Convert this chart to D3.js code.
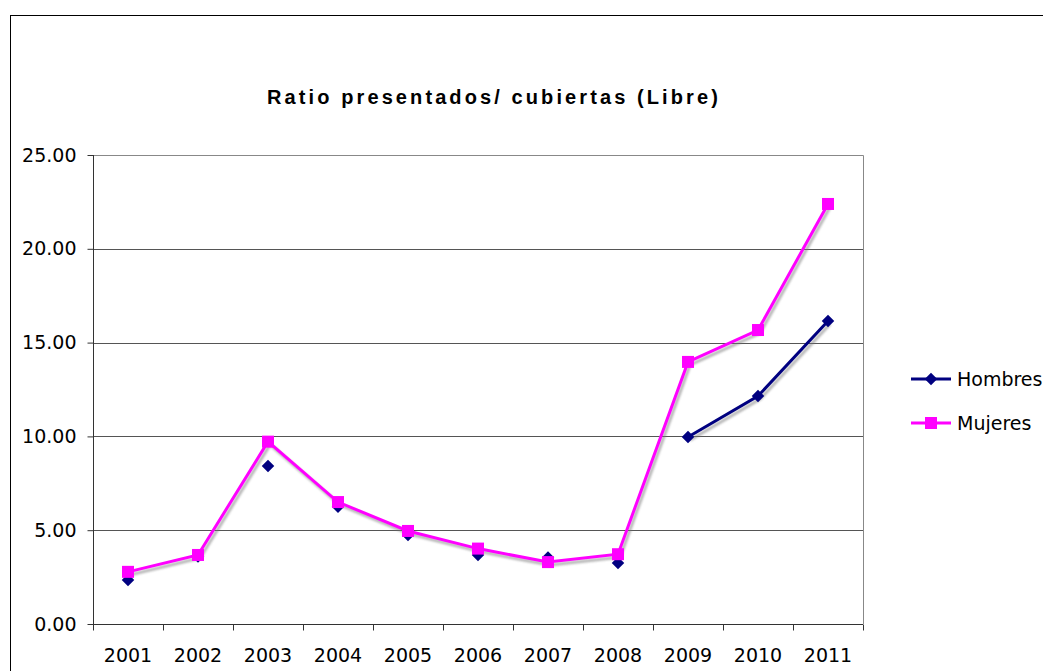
<!DOCTYPE html>
<html>
<head>
<meta charset="utf-8">
<script src="https://cdn.jsdelivr.net/npm/d3@7"></script>
<style>
  body { margin: 0; background: #fff; }
  svg text { font-family: "DejaVu Sans", Verdana, sans-serif; fill: #000; }
</style>
</head>
<body>
<div id="chart"></div>
<script>
const years = ["2001", "2002", "2003", "2004", "2005", "2006", "2007", "2008", "2009", "2010", "2011"]
const hombres = [2.35, 3.6, 8.42, 6.25, 4.75, 3.68, 3.55, 3.25, 9.97, 12.15, 16.15]
const mujeres = [2.78, 3.68, 9.72, 6.5, 4.96, 4.02, 3.3, 3.72, 13.97, 15.67, 22.39]
// the Hombres line is only drawn between these years, elsewhere only markers
const hombresLineYears = ["2009", "2010", "2011"]
const yTicks = [0, 5, 10, 15, 20, 25]

const W = 1043, H = 671
const margin = {top: 155, right: 180, bottom: 47, left: 93}
const width = W - margin.left - margin.right,
    height = H - margin.top - margin.bottom

const svg = d3.select("#chart").append("svg")
    .attr("width", W)
    .attr("height", H)

svg.append("defs").append("filter")
    .attr("id", "blur")
    .append("feGaussianBlur")
    .attr("stdDeviation", 0.8)

// outer chart border
svg.append("rect")
    .attr("x", 10.5).attr("y", 15.5)
    .attr("width", W + 20).attr("height", H + 20)
    .attr("fill", "#fff")
    .attr("stroke", "#000")

svg.append("text")
    .attr("x", 494).attr("y", 104)
    .attr("text-anchor", "middle")
    .style("font-family", "'Liberation Sans', Arial, sans-serif")
    .style("font-weight", "bold")
    .style("font-size", "20px")
    .style("letter-spacing", "3.1px")
    .text("Ratio presentados/ cubiertas (Libre)")

const g = svg.append("g")
    .attr("transform", "translate(" + margin.left + "," + margin.top + ")")

const x = d3.scaleBand().domain(years).range([0, width])
const y = d3.scaleLinear().domain([0, 25]).range([height, 0])

// plot frame (top / right)
g.append("path")
    .attr("d", "M0,0.5H" + (width + 0.5) + "V" + height)
    .attr("fill", "none")
    .attr("stroke", "#888")

// gridlines
g.selectAll(".grid")
    .data(yTicks.filter(d => d > 0 && d < 25))
    .enter().append("line")
    .attr("x1", 0).attr("x2", width)
    .attr("y1", d => Math.round(y(d)) + 0.5)
    .attr("y2", d => Math.round(y(d)) + 0.5)
    .attr("stroke", "#555")

// x axis
const xAxis = g.append("g")
    .attr("transform", "translate(0," + (height + 0.5) + ")")
    .call(d3.axisBottom(x).tickSize(0).tickPadding(24))
xAxis.select(".domain").attr("stroke", "#333").attr("d", "M0,0H" + width)
xAxis.selectAll("text").style("font-size", "19px").style("font-family", "'DejaVu Sans', sans-serif")
xAxis.selectAll(".bound")
    .data(d3.range(years.length + 1))
    .enter().append("line")
    .attr("x1", i => Math.round(i * x.step()) + 0.5)
    .attr("x2", i => Math.round(i * x.step()) + 0.5)
    .attr("y1", 0).attr("y2", 6)
    .attr("stroke", "#333")

// y axis
const yAxis = g.append("g")
    .attr("transform", "translate(0.5,0)")
    .call(d3.axisLeft(y).tickValues(yTicks).tickSize(6).tickPadding(11).tickFormat(d3.format(".2f")))
yAxis.select(".domain").attr("stroke", "#333").attr("d", "M0,0V" + height)
yAxis.selectAll(".tick line").attr("stroke", "#333")
yAxis.selectAll("text").style("font-size", "19px").style("font-family", "'DejaVu Sans', sans-serif")

const pts = arr => years.map((yr, i) => ({year: yr, v: arr[i]}))
const line = d3.line()
    .x(d => x(d.year) + x.bandwidth() / 2)
    .y(d => y(d.v))

const hData = pts(hombres)
const mData = pts(mujeres)
const hLine = hData.filter(d => hombresLineYears.includes(d.year))

// shadows
const shadow = g.append("g")
    .attr("transform", "translate(2,3)")
    .attr("filter", "url(#blur)")
    .attr("opacity", 0.55)
shadow.append("path").datum(hLine).attr("d", line)
    .attr("fill", "none").attr("stroke", "#777").attr("stroke-width", 3)
shadow.append("path").datum(mData).attr("d", line)
    .attr("fill", "none").attr("stroke", "#777").attr("stroke-width", 3)

// Hombres
g.append("path").datum(hLine).attr("d", line)
    .attr("fill", "none").attr("stroke", "#000080").attr("stroke-width", 3)
g.selectAll(".dia")
    .data(hData)
    .enter().append("path")
    .attr("transform", d => "translate(" + (x(d.year) + x.bandwidth() / 2) + "," + y(d.v) + ")")
    .attr("d", d3.symbol().type(d3.symbolDiamond2).size(100))
    .attr("fill", "#000080")

// Mujeres
g.append("path").datum(mData).attr("d", line)
    .attr("fill", "none").attr("stroke", "#ff00ff").attr("stroke-width", 3)
g.selectAll(".sq")
    .data(mData)
    .enter().append("rect")
    .attr("x", d => x(d.year) + x.bandwidth() / 2 - 6)
    .attr("y", d => y(d.v) - 6)
    .attr("width", 12).attr("height", 12)
    .attr("fill", "#ff00ff")

// legend
const legend = svg.append("g").attr("transform", "translate(911,379)")
const items = [
    {name: "Hombres", color: "#000080", shape: "diamond"},
    {name: "Mujeres", color: "#ff00ff", shape: "square"}
]
items.forEach((it, i) => {
    const row = legend.append("g").attr("transform", "translate(0," + (i * 44) + ")")
    row.append("line").attr("x1", 0).attr("x2", 40)
        .attr("stroke", it.color).attr("stroke-width", 3)
    if (it.shape === "diamond") {
        row.append("path").attr("transform", "translate(20,0)")
            .attr("d", d3.symbol().type(d3.symbolDiamond2).size(100))
            .attr("fill", it.color)
    } else {
        row.append("rect").attr("x", 14).attr("y", -6)
            .attr("width", 12).attr("height", 12).attr("fill", it.color)
    }
    row.append("text").attr("x", 46).attr("y", 7)
        .style("font-size", "19px")
        .text(it.name)
})
</script>
</body>
</html>
